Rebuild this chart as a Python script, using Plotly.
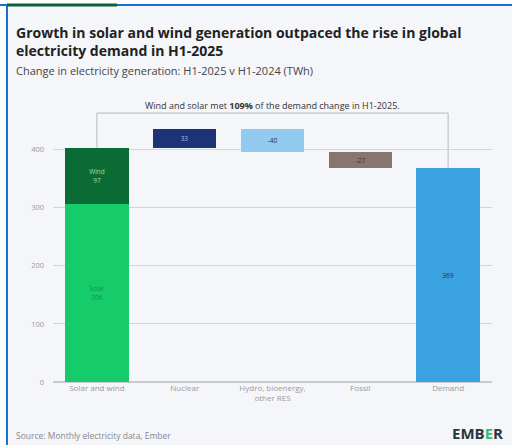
import plotly.graph_objects as go

categories = ["Solar and wind", "Nuclear", "Hydro, bioenergy,<br>other RES", "Fossil", "Demand"]
solar = 306
wind = 97
nuclear = 33
hydro = -40
fossil = -27
demand = 369
y_ticks = [0, 100, 200, 300, 400]

W, H = 512, 445
L, R, T, B = 53, 20, 109, 63
pw, ph = W - L - R, H - T - B

def px(x):
    return (x - L) / pw

def py(y):
    return (H - B - y) / ph

sw_total = solar + wind
base_nuc = sw_total
base_hyd = base_nuc + nuclear
base_fos = base_hyd + hydro

fig = go.Figure()
bw = 0.72
def add_bar(cat, base, val, color, text, tcolor):
    fig.add_trace(go.Bar(
        x=[cat], y=[val], base=[base], width=bw,
        marker=dict(color=color, line=dict(width=0)),
        text=[text], textposition="inside", insidetextanchor="middle",
        textfont=dict(color=tcolor, size=6.5, family="Open Sans"),
        hoverinfo="skip", showlegend=False,
    ))

add_bar(categories[0], 0, solar, "#16cc6a", f"Solar<br>{solar}", "#10964f")
add_bar(categories[0], solar, wind, "#0b6b35", f"Wind<br>{wind}", "#9fdcb4")
add_bar(categories[1], base_nuc, nuclear, "#1c3477", f"{nuclear}", "#aab8e0")
add_bar(categories[2], base_hyd, hydro, "#92cbef", f"{hydro}", "#1e2b4a")
add_bar(categories[3], base_fos, fossil, "#887572", f"{fossil}", "#3b2f2e")
add_bar(categories[4], 0, demand, "#3ba2e2", f"{demand}", "#17305c")

top_y = 463
line_col = "#b5b9c0"
shapes = [
    dict(type="line", xref="x", yref="y", x0=0, x1=4, y0=top_y, y1=top_y, line=dict(color=line_col, width=1), layer="below"),
    dict(type="line", xref="x", yref="y", x0=0, x1=0, y0=top_y, y1=sw_total, line=dict(color=line_col, width=1), layer="below"),
    dict(type="line", xref="x", yref="y", x0=4, x1=4, y0=top_y, y1=demand, line=dict(color=line_col, width=1), layer="below"),
    # frame
    dict(type="rect", xref="paper", yref="paper", x0=px(0), x1=px(7), y0=py(445), y1=py(0), fillcolor="white", line=dict(width=0), layer="below"),
    dict(type="rect", xref="paper", yref="paper", x0=px(0), x1=px(512), y0=py(5), y1=py(0), fillcolor="white", line=dict(width=0), layer="below"),
    dict(type="line", xref="paper", yref="paper", x0=px(0), x1=px(512), y0=py(5), y1=py(5), line=dict(color="#1a6fd0", width=2)),
    dict(type="line", xref="paper", yref="paper", x0=px(7), x1=px(7), y0=py(5), y1=py(445), line=dict(color="#1a6fd0", width=2)),
    dict(type="line", xref="paper", yref="paper", x0=px(7), x1=px(117), y0=py(5), y1=py(5), line=dict(color="#0d5e3a", width=3)),
]

annotations = [
    dict(xref="paper", yref="paper", x=px(14), y=py(21), xanchor="left", yanchor="top", align="left",
         text="<b>Growth in solar and wind generation outpaced the rise in global<br>electricity demand in H1-2025</b>",
         showarrow=False, font=dict(family="Open Sans", size=14, color="#222222")),
    dict(xref="paper", yref="paper", x=px(14), y=py(70), xanchor="left", yanchor="middle",
         text="Change in electricity generation: H1-2025 v H1-2024 (TWh)",
         showarrow=False, font=dict(family="Open Sans", size=11, color="#444444")),
    dict(xref="paper", yref="paper", x=px(272), y=py(105), xanchor="center", yanchor="middle",
         text=f"Wind and solar met <b>{round(100*sw_total/demand)}%</b> of the demand change in H1-2025.",
         showarrow=False, font=dict(family="Open Sans", size=9, color="#333333")),
    dict(xref="paper", yref="paper", x=px(14), y=py(435), xanchor="left", yanchor="middle",
         text="Source: Monthly electricity data, Ember",
         showarrow=False, font=dict(family="Open Sans", size=8.5, color="#888888")),
    dict(xref="paper", yref="paper", x=px(505), y=py(433), xanchor="right", yanchor="middle",
         text="<b>EMB<span style='color:#2fbf71'>E</span>R</b>",
         showarrow=False, font=dict(family="Open Sans", size=15, color="#2b3440")),
]

fig.update_layout(
    width=W, height=H,
    margin=dict(l=L, r=R, t=T, b=B),
    paper_bgcolor="#f5f6fa", plot_bgcolor="#f5f6fa",
    barmode="overlay", bargap=0,
    shapes=shapes, annotations=annotations,
    font=dict(family="Open Sans"),
)
fig.update_xaxes(type="category", categoryorder="array", categoryarray=categories,
                 range=[-0.5, 4.5], showgrid=False, showline=False, zeroline=False,
                 tickfont=dict(size=8, color="#999999"), ticks="")
fig.update_yaxes(range=[0, 470], tickvals=y_ticks, ticktext=[str(v) for v in y_ticks],
                 showgrid=True, gridcolor="#d3d5da", gridwidth=1, zeroline=True,
                 zerolinecolor="#c8cace", tickfont=dict(size=7.5, color="#999999"),
                 ticks="", ticklabelstandoff=8, showline=False)

fig.write_html("out.html", config={"displayModeBar": False},
               post_script="document.body.style.margin='0';document.body.style.overflow='hidden';")
